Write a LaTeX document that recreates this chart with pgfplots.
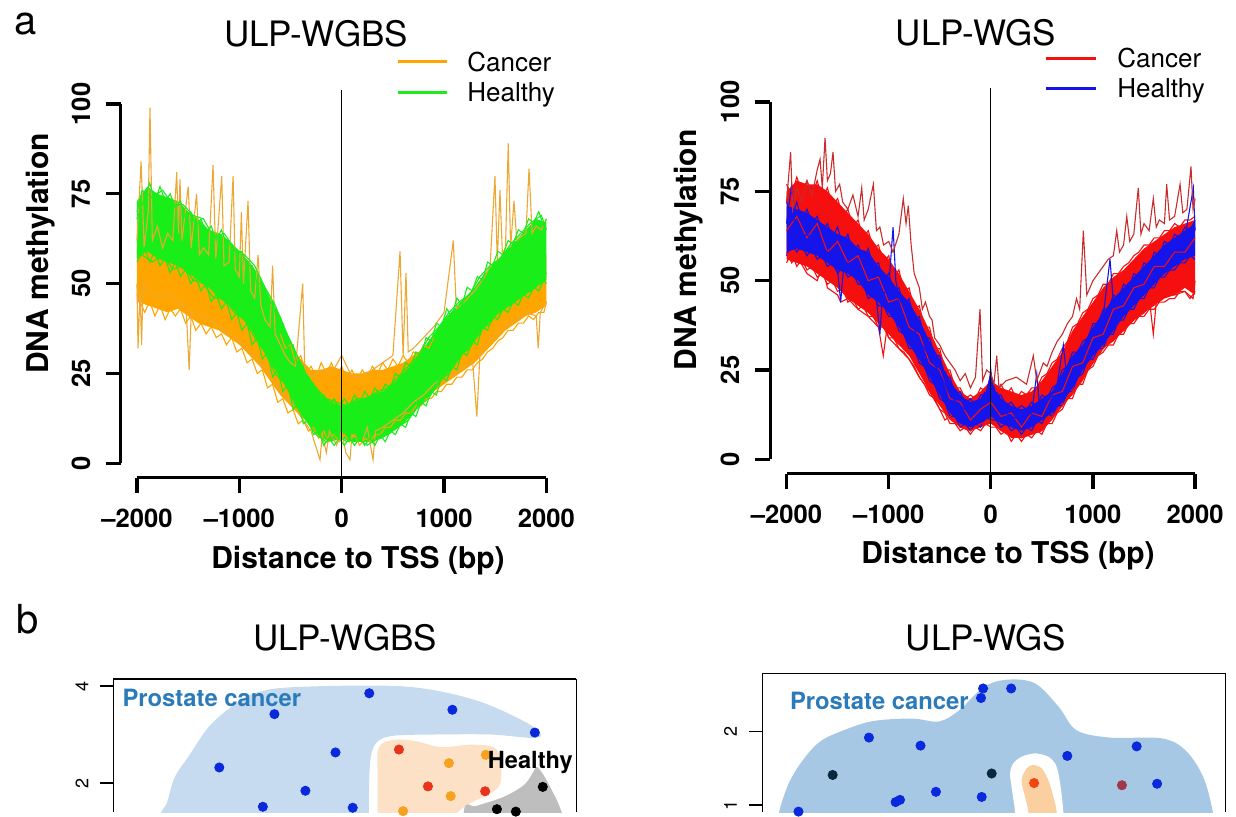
\documentclass[border=0pt]{standalone}
\usepackage{fontspec}
\setmainfont{TeX Gyre Heros}
\usepackage{pgfplots}
\usepackage{pgfplotstable}
\pgfplotsset{compat=1.18}
\usepgfplotslibrary{fillbetween}

\definecolor{cOrange}{RGB}{255,165,0}
\definecolor{cOrangeL}{RGB}{236,168,50}
\definecolor{cGreen}{RGB}{25,238,25}
\definecolor{cRed}{RGB}{245,15,15}
\definecolor{cRedD}{RGB}{200,45,45}
\definecolor{cBlue}{RGB}{20,20,235}
\definecolor{bBlueL}{RGB}{198,219,239}
\definecolor{bBlueR}{RGB}{166,200,228}
\definecolor{bPeachL}{RGB}{252,225,198}
\definecolor{bPeachR}{RGB}{250,208,160}
\definecolor{bGrey}{RGB}{190,190,190}
\definecolor{txtBlue}{RGB}{43,123,186}
\definecolor{dBlue}{RGB}{10,40,220}
\definecolor{dRed}{RGB}{232,52,28}
\definecolor{dOrange}{RGB}{245,162,30}
\definecolor{dNavy}{RGB}{10,40,60}
\definecolor{dOrRed}{RGB}{240,70,20}
\definecolor{dMaroon}{RGB}{160,56,74}

% band envelopes (x, lower, upper)
\pgfplotstableread{
x lo hi
-2000 45 62
-1900 44 64
-1800 43 60
-1700 42 59
-1600 43 58
-1500 41 57
-1400 39 55
-1300 38 53
-1200 37 51
-1100 35 49
-1000 33 47
-900 30 44
-800 27 41
-700 23 38
-600 19 35
-500 16 31
-400 13 29
-300 11 26
-200 9 26
-100 8 27
0 8 26
100 8 25
200 7 25
300 8 26
400 10 26
500 12 27
600 14 28
700 16 30
800 18 32
900 20 34
1000 22 37
1100 24 40
1200 26 42
1300 28 45
1400 31 48
1500 34 50
1600 37 53
1700 39 55
1800 41 57
1900 42 58
2000 44 58
}\tabOL

\pgfplotstableread{
x lo hi
-2000 57 73
-1900 59 77
-1800 57 75
-1700 56 74
-1600 55 73
-1500 53 70
-1400 51 68
-1300 49 65
-1200 46 64
-1100 44 62
-1000 41 59
-900 38 56
-800 33 52
-700 28 46
-600 24 41
-500 19 34
-400 14 28
-300 10 23
-200 7 19
-100 6 17
0 7 16
100 6 17
200 6 18
300 6 19
400 7 20
500 9 22
600 11 25
700 14 28
800 17 32
900 20 36
1000 24 40
1100 27 43
1200 31 46
1300 34 49
1400 38 53
1500 41 56
1600 43 59
1700 45 62
1800 47 65
1900 49 68
2000 51 67
}\tabGL

\pgfplotstableread{
x lo hi
-2000 56 75
-1900 55 78
-1800 54 77
-1700 52 77
-1600 50 75
-1500 48 72
-1400 45 69
-1300 43 66
-1200 41 63
-1100 38 59
-1000 35 56
-900 32 52
-800 29 47
-700 24 42
-600 19 36
-500 15 30
-400 11 24
-300 9 19
-200 8 17
-100 9 19
0 10 22
100 8 20
200 6 19
300 6 18
400 7 19
500 8 22
600 11 26
700 15 30
800 18 36
900 22 40
1000 27 44
1100 31 48
1200 33 51
1300 36 53
1400 39 56
1500 41 59
1600 43 61
1700 45 63
1800 46 65
1900 48 66
2000 46 67
}\tabRR

\pgfplotstableread{
x lo hi
-2000 58 71
-1900 59 70
-1800 58 69
-1700 57 67
-1600 55 65
-1500 53 63
-1400 52 62
-1300 50 59
-1200 46 58
-1100 44 54
-1000 41 51
-900 37 47
-800 32 44
-700 28 39
-600 23 33
-500 18 28
-400 13 22
-300 10 18
-200 9 16
-100 10 17
0 12 22
100 10 17
200 9 15
300 8 14
400 9 15
500 11 17
600 13 19
700 16 24
800 20 29
900 25 32
1000 29 37
1100 32 41
1200 36 45
1300 40 48
1400 43 51
1500 46 54
1600 49 57
1700 52 60
1800 54 62
1900 56 64
2000 57 66
}\tabBR

\pgfplotsset{
  toppanel/.style={
    anchor=south west, scale only axis,
    xmin=-2160, xmax=2160, ymin=-4, ymax=104,
    clip=false,
    axis line style={draw=none},
    xtick pos=left, ytick=\empty,
    xtick={-2000,-1000,0,1000,2000},
    xticklabels={--2000,--1000,0,1000,2000},
    tick align=outside, major tick length=7.5pt,
    tick style={black, line width=1.6pt},
    xticklabel style={font=\bfseries\fontsize{12.8}{14}\selectfont,
      inner sep=0pt, anchor=north},
    xticklabel shift=8pt,
  },
  botpanel/.style={
    anchor=north west, scale only axis,
    axis x line=top, axis y line=box,
    axis line style={-, black, line width=0.6pt},
    xtick=\empty, ytick=\empty,
  },
  overlay/.style={
    anchor=north west, scale only axis,
    axis lines=none, ticks=none, clip=false,
  },
  thinline/.style={line width=0.55pt, forget plot},
}

\begin{document}
\begin{tikzpicture}
\path (0pt,0pt) rectangle (618pt,-406pt);

% ---------------- a, ULP-WGBS ----------------
\begin{axis}[toppanel, at={(60.3pt,-238.85pt)}, width=221.1pt, height=194.05pt]
  \addplot[draw=none, name path=oh] table[x=x, y=hi] {\tabOL};
  \addplot[draw=none, name path=ol] table[x=x, y=lo] {\tabOL};
  \addplot[fill=cOrange, draw=none] fill between[of=oh and ol];
  \addplot[thinline, cOrange] coordinates {
    (-2000,47) (-1925,42) (-1875,45) (-1825,41) (-1775,44) (-1725,40) (-1675,43)
    (-1625,41) (-1575,43) (-1525,39) (-1475,41) (-1425,37) (-1375,39) (-1325,36)
    (-1275,38) (-1225,35) (-1175,36) (-1125,33) (-1075,35) (-1025,31) (-975,32)
    (-925,28) (-875,29) (-825,25) (-775,26) (-725,21) (-675,22) (-625,17) (-575,18)
    (-525,14) (-475,15) (-425,11) (-375,12) (-325,9) (-275,10) (-225,7) (-175,9)
    (-125,6) (-75,8) (-25,6) (25,8) (75,6) (125,8) (175,5) (225,7) (275,6) (325,8)
    (375,8) (425,10) (475,10) (525,12) (575,12) (625,14) (675,14) (725,16) (775,16)
    (825,18) (875,18) (925,20) (975,20) (1025,22) (1075,22) (1125,24) (1175,24)
    (1225,26) (1275,26) (1325,28) (1375,29) (1425,31) (1475,32) (1525,34)
    (1575,35) (1625,37) (1675,37) (1725,39) (1775,39) (1825,41) (1875,40)
    (1925,42) (1975,42) (2000,45)};
  \addplot[thinline, cOrange] coordinates {
    (-600,36) (-550,32) (-500,33) (-450,28) (-400,30) (-350,25) (-300,27) (-250,24)
    (-200,28) (-150,25) (-100,28) (-50,24) (0,27) (50,23) (100,26) (150,23) (200,26)
    (250,24) (300,27) (350,25) (400,28) (450,26) (500,29) (550,27) (600,30)
    (650,28) (700,31) (750,30) (800,33) (850,32) (900,35)};
  % cancer samples with spikes
  \addplot[thinline, cOrangeL] coordinates {
    (-2000,62) (-1960,84) (-1930,60) (-1890,70) (-1873,99) (-1850,62) (-1800,66)
    (-1750,60) (-1700,64) (-1650,62) (-1612,81) (-1595,64) (-1580,79) (-1560,62)
    (-1500,77) (-1470,60) (-1418,75) (-1390,58) (-1350,60) (-1300,58) (-1257,83)
    (-1230,57) (-1172,80) (-1150,55) (-1100,56) (-1061,80) (-1040,54) (-1000,52)
    (-980,70) (-960,50) (-915,73) (-890,48) (-850,46) (-817,58) (-790,44) (-750,40)
    (-700,38) (-675,55) (-650,36) (-600,33) (-550,30) (-500,28) (-450,27) (-381,50)
    (-360,25) (-300,24) (-200,26) (-100,25) (0,30) (100,24) (200,24) (300,26)
    (400,28) (500,30) (570,59) (600,30) (628,53) (650,31) (700,32) (800,35)
    (900,38) (1000,42) (1090,62) (1120,43) (1200,45) (1300,48) (1400,52) (1450,55)
    (1497,80) (1520,56) (1546,76) (1570,58) (1600,60) (1627,89) (1650,60) (1683,73)
    (1710,62) (1750,63) (1800,64) (1830,82) (1860,64) (1900,66) (1950,65) (2000,68)};
  \addplot[thinline, cOrangeL] coordinates {
    (-2000,50) (-1990,32) (-1970,48) (-1955,33) (-1940,50) (-1900,48) (-1800,46)
    (-1700,47) (-1600,45) (-1520,43) (-1490,26) (-1470,42) (-1400,41) (-1300,40)
    (-1200,38) (-1100,36) (-1000,34) (-900,31) (-800,28) (-700,25) (-600,20)
    (-500,17) (-400,13) (-300,9) (-212,1) (-190,8) (-150,3) (-120,9) (-50,5) (0,9)
    (40,3) (81,1) (100,8) (200,6) (250,10) (306,1) (330,9) (400,10) (500,12)
    (600,14) (700,17) (800,19) (900,22) (1000,24) (1100,25) (1200,27) (1280,28)
    (1320,13) (1350,30) (1400,33) (1500,36) (1600,38) (1700,40) (1800,42)
    (1900,41) (1920,32) (1940,42) (2000,45)};
  \addplot[draw=none, name path=gh] table[x=x, y=hi] {\tabGL};
  \addplot[draw=none, name path=gl] table[x=x, y=lo] {\tabGL};
  \addplot[fill=cGreen, draw=none] fill between[of=gh and gl];
  \addplot[thinline, cGreen] coordinates {
    (-2000,70) (-1950,76) (-1850,74) (-1750,76) (-1650,72) (-1550,72) (-1450,69)
    (-1350,68) (-1250,63) (-1150,64) (-1050,60) (-950,58) (-850,55) (-750,49)
    (-650,44) (-550,37) (-450,31) (-350,25) (-250,21) (-150,18) (-50,17) (50,16)
    (150,18) (250,18) (350,20) (450,21) (550,24) (650,27) (750,30) (850,35)
    (950,38) (1050,42) (1150,45) (1250,47) (1350,52) (1450,55) (1550,57) (1650,61)
    (1750,64) (1850,67) (1950,69) (2000,65)};
  \addplot[thinline, cGreen] coordinates {
    (-2000,59) (-1950,58) (-1850,56) (-1750,58) (-1650,54) (-1550,55) (-1450,51)
    (-1350,50) (-1250,46) (-1150,46) (-1050,42) (-950,40) (-850,35) (-750,31)
    (-650,25) (-550,22) (-450,16) (-350,12) (-250,8) (-150,6) (-50,8) (50,6)
    (150,7) (250,5) (350,7) (450,8) (550,10) (650,12) (750,16) (850,18) (950,23)
    (1050,25) (1150,30) (1250,32) (1350,37) (1450,39) (1550,43) (1650,44)
    (1750,47) (1850,48) (1950,51) (2000,53)};
  \addplot[thinline, cGreen] coordinates {
    (-2000,68) (-1925,74) (-1875,78) (-1825,73) (-1775,77) (-1725,73) (-1675,75)
    (-1625,71) (-1575,73) (-1525,68) (-1475,70) (-1425,66) (-1375,68) (-1325,64)
    (-1275,66) (-1225,62) (-1175,65) (-1125,61) (-1075,61) (-1025,58) (-975,59)
    (-925,55) (-875,55) (-825,50) (-775,50) (-725,44) (-675,45) (-625,39) (-575,39)
    (-525,32) (-475,33) (-425,26) (-375,27) (-325,21) (-275,22) (-225,18) (-175,19)
    (-125,16) (-75,18) (-25,15) (25,18) (75,16) (125,19) (175,17) (225,20) (275,18)
    (325,21) (375,19) (425,22) (475,21) (525,25) (575,24) (625,28) (675,27) (725,31)
    (775,30) (825,35) (875,34) (925,39) (975,38) (1025,43) (1075,41) (1125,46)
    (1175,44) (1225,49) (1275,48) (1325,52) (1375,51) (1425,56) (1475,55) (1525,59)
    (1575,58) (1625,62) (1675,61) (1725,65) (1775,64) (1825,68) (1875,67) (1925,70)
    (1975,66) (2000,68)};
  \addplot[thinline, cGreen] coordinates {
    (-2000,56) (-1925,60) (-1875,56) (-1825,59) (-1775,55) (-1725,57) (-1675,53)
    (-1625,56) (-1575,52) (-1525,54) (-1475,50) (-1425,52) (-1375,48) (-1325,50)
    (-1275,45) (-1225,47) (-1175,43) (-1125,45) (-1075,40) (-1025,42) (-975,37)
    (-925,39) (-875,33) (-825,35) (-775,29) (-725,31) (-675,24) (-625,26) (-575,20)
    (-525,22) (-475,15) (-425,17) (-375,11) (-325,12) (-275,8) (-225,9) (-175,5)
    (-125,7) (-75,5) (-25,7) (25,5) (75,7) (125,5) (175,7) (225,5) (275,7) (325,5)
    (375,8) (425,6) (475,9) (525,8) (575,11) (625,10) (675,14) (725,13) (775,17)
    (825,16) (875,20) (925,19) (975,24) (1025,23) (1075,27) (1125,26) (1175,31)
    (1225,30) (1275,34) (1325,33) (1375,38) (1425,37) (1475,41) (1525,40) (1575,43)
    (1625,42) (1675,45) (1725,44) (1775,47) (1825,46) (1875,49) (1925,48) (1975,51)
    (2000,50)};
  \addplot[black, line width=0.6pt, forget plot] coordinates {(0,-4) (0,104)};
  \addplot[black, line width=1.6pt, forget plot] coordinates {(-2000,-4) (2000,-4)};
  \addplot[black, line width=1.6pt, forget plot] coordinates {(-2160,0) (-2160,100)};
  \addplot[black, line width=1.6pt, forget plot, unbounded coords=jump] coordinates {
    (-2160,0) (-2306.5,0) (nan,nan) (-2160,25) (-2306.5,25) (nan,nan)
    (-2160,50) (-2306.5,50) (nan,nan) (-2160,75) (-2306.5,75) (nan,nan)
    (-2160,100) (-2306.5,100)};
  % legend keys
  \addplot[cOrange, line width=1.5pt, forget plot] coordinates {(550,111.7) (1029,111.7)};
  \addplot[cGreen, line width=1.5pt, forget plot] coordinates {(550,103.1) (1029,103.1)};
\end{axis}

% ---------------- a, ULP-WGS ----------------
\begin{axis}[toppanel, at={(385.1pt,-236.8pt)}, width=220.6pt, height=192.9pt]
  \addplot[draw=none, name path=rh] table[x=x, y=hi] {\tabRR};
  \addplot[draw=none, name path=rl] table[x=x, y=lo] {\tabRR};
  \addplot[fill=cRed, draw=none] fill between[of=rh and rl];
  \addplot[thinline, cRed] coordinates {
    (-2000,77) (-1950,74) (-1900,79) (-1850,75) (-1800,78) (-1750,74) (-1700,78)
    (-1650,73) (-1600,76) (-1550,71) (-1500,73) (-1450,68) (-1400,70) (-1350,65)
    (-1300,67) (-1250,62) (-1200,64) (-1150,59) (-1100,60) (-1050,55) (-1000,57)
    (-950,51) (-900,53) (-850,47) (-800,48) (-750,42) (-700,43) (-650,37) (-600,37)
    (-550,31) (-500,31) (-450,25) (-400,25) (-350,20) (-300,20) (-250,17) (-200,18)
    (-150,17) (-100,20) (-50,19) (0,23) (50,19) (100,21) (150,18) (200,20) (250,17)
    (300,19) (350,18) (400,20) (450,20) (500,23) (550,24) (600,27) (650,28) (700,31)
    (750,33) (800,37) (850,38) (900,41) (950,42) (1000,45) (1050,46) (1100,49)
    (1150,49) (1200,52) (1250,52) (1300,54) (1350,55) (1400,57) (1450,58) (1500,60)
    (1550,60) (1600,62) (1650,62) (1700,64) (1750,64) (1800,66) (1850,65) (1900,67)
    (1950,67) (2000,68)};
  \addplot[thinline, cRed] coordinates {
    (-2000,55) (-1950,58) (-1900,54) (-1850,56) (-1800,53) (-1750,54) (-1700,51)
    (-1650,52) (-1600,49) (-1550,50) (-1500,47) (-1450,48) (-1400,44) (-1350,45)
    (-1300,42) (-1250,43) (-1200,40) (-1150,40) (-1100,37) (-1050,37) (-1000,34)
    (-950,34) (-900,31) (-850,30) (-800,28) (-750,26) (-700,23) (-650,21) (-600,18)
    (-550,17) (-500,14) (-450,13) (-400,10) (-350,10) (-300,8) (-250,9) (-200,7)
    (-150,9) (-100,8) (-50,10) (0,9) (50,9) (100,7) (150,8) (200,5) (250,7) (300,5)
    (350,7) (400,6) (450,8) (500,7) (550,10) (600,10) (650,13) (700,14) (750,17)
    (800,17) (850,21) (900,21) (950,25) (1000,26) (1050,29) (1100,30) (1150,32)
    (1200,32) (1250,35) (1300,35) (1350,38) (1400,38) (1450,40) (1500,40) (1550,42)
    (1600,42) (1650,44) (1700,44) (1750,45) (1800,45) (1850,47) (1900,47) (1950,45)
    (2000,47)};
  \addplot[draw=none, name path=bh] table[x=x, y=hi] {\tabBR};
  \addplot[draw=none, name path=bl] table[x=x, y=lo] {\tabBR};
  \addplot[fill=cBlue, draw=none] fill between[of=bh and bl];
  \addplot[thinline, cBlue] coordinates {
    (-2000,72) (-1950,68) (-1900,72) (-1850,67) (-1800,70) (-1750,66) (-1700,68)
    (-1650,64) (-1600,66) (-1550,62) (-1500,65) (-1450,60) (-1400,63) (-1350,58)
    (-1300,60) (-1250,56) (-1200,59) (-1150,54) (-1100,55) (-1050,50) (-1000,52)
    (-950,47) (-900,48) (-850,43) (-800,45) (-750,39) (-700,40) (-650,34) (-600,34)
    (-550,29) (-500,29) (-450,23) (-400,23) (-350,18) (-300,19) (-250,15) (-200,17)
    (-150,15) (-100,18) (-50,18) (0,24) (50,18) (100,18) (150,15) (200,16) (250,14)
    (300,15) (350,14) (400,16) (450,15) (500,18) (550,17) (600,20) (650,21) (700,25)
    (750,26) (800,30) (850,30) (900,33) (950,34) (1000,38) (1050,38) (1100,42)
    (1150,42) (1200,46) (1250,45) (1300,49) (1350,48) (1400,52) (1450,51) (1500,55)
    (1550,54) (1600,58) (1650,57) (1700,61) (1750,60) (1800,63) (1850,62) (1900,65)
    (1950,64) (2000,67)};
  \addplot[thinline, cBlue] coordinates {
    (-2000,57) (-1950,61) (-1900,58) (-1850,60) (-1800,57) (-1750,59) (-1700,56)
    (-1650,57) (-1600,54) (-1550,55) (-1500,52) (-1450,54) (-1400,51) (-1350,52)
    (-1300,49) (-1250,49) (-1200,45) (-1150,46) (-1100,43) (-1050,43) (-1000,40)
    (-950,40) (-900,36) (-850,35) (-800,31) (-750,31) (-700,27) (-650,26) (-600,22)
    (-550,21) (-500,17) (-450,16) (-400,12) (-350,12) (-300,9) (-250,10) (-200,8)
    (-150,10) (-100,9) (-50,12) (0,11) (50,11) (100,9) (150,10) (200,8) (250,9)
    (300,7) (350,9) (400,8) (450,11) (500,10) (550,13) (600,12) (650,15) (700,15)
    (750,19) (800,19) (850,23) (900,24) (950,28) (1000,28) (1050,31) (1100,31)
    (1150,35) (1200,35) (1250,39) (1300,39) (1350,42) (1400,42) (1450,45) (1500,45)
    (1550,48) (1600,48) (1650,51) (1700,51) (1750,53) (1800,53) (1850,55) (1900,55)
    (1950,57) (2000,56)};
  \addplot[thinline, cRed] coordinates {
    (-2000,64) (-1900,68) (-1800,62) (-1700,66) (-1600,58) (-1500,61) (-1400,55)
    (-1300,57) (-1200,50) (-1100,51) (-1000,44) (-900,45) (-800,37) (-700,35)
    (-600,27) (-500,25) (-400,17) (-300,16) (-200,11) (-100,14) (0,16) (100,12)
    (200,13) (300,9) (400,13) (500,12) (600,18) (700,19) (800,26) (900,27)
    (1000,34) (1100,35) (1200,42) (1300,43) (1400,48) (1500,49) (1600,54)
    (1700,54) (1800,58) (1900,58) (2000,62)};
  \addplot[thinline, cRed] coordinates {
    (-2000,58) (-1950,55) (-1900,57) (-1800,52) (-1700,50) (-1650,54) (-1600,48)
    (-1500,46) (-1470,44) (-1400,45) (-1300,42) (-1200,40) (-1100,37) (-1053,29)
    (-1020,36) (-1000,34) (-900,31) (-800,28) (-700,23) (-600,19) (-500,14)
    (-450,11) (-400,12) (-300,9) (-200,8) (-100,10) (0,11) (100,8) (200,7) (300,6)
    (400,7) (500,8) (600,12) (700,15) (800,19) (900,23) (1000,27) (1100,31)
    (1200,34) (1300,36) (1400,39) (1500,41) (1560,43) (1591,35) (1620,44)
    (1700,46) (1800,46) (1900,47) (1980,45) (2000,50)};
  \addplot[thinline, cBlue] coordinates {
    (-2000,66) (-1950,77) (-1920,64) (-1850,62) (-1800,63) (-1700,60) (-1600,58)
    (-1500,53) (-1470,44) (-1440,54) (-1400,55) (-1300,52) (-1200,48) (-1120,45)
    (-1086,35) (-1060,46) (-1000,48) (-957,65) (-930,50) (-900,45) (-800,40)
    (-700,33) (-600,29) (-500,24) (-400,18) (-300,15) (-200,13) (-100,15) (-30,18)
    (0,25) (30,16) (100,14) (200,12) (300,11) (400,13) (450,24) (480,14) (550,16)
    (600,18) (650,21) (710,32) (740,24) (800,27) (900,31) (1000,35) (1100,40)
    (1167,56) (1200,44) (1300,47) (1400,50) (1500,53) (1600,56) (1700,58)
    (1800,60) (1900,62) (1983,76) (2000,64)};
  \addplot[thinline, cRedD] coordinates {
    (-2000,72) (-1960,86) (-1940,70) (-1900,76) (-1850,72) (-1800,78) (-1750,74)
    (-1700,81) (-1672,84) (-1650,76) (-1623,90) (-1600,78) (-1570,80) (-1545,86)
    (-1520,75) (-1480,77) (-1450,72) (-1400,70) (-1350,74) (-1300,68) (-1264,76)
    (-1240,67) (-1200,70) (-1150,77) (-1120,64) (-1086,65) (-1050,60) (-1000,61)
    (-957,58) (-900,63) (-857,73) (-830,66) (-808,71) (-780,60) (-750,52) (-700,48)
    (-670,42) (-640,44) (-600,40) (-575,39) (-550,34) (-500,32) (-450,29) (-400,27)
    (-350,25) (-300,22) (-250,24) (-200,20) (-150,23) (-106,42) (-80,22) (-40,25)
    (0,24) (30,21) (58,29) (80,20) (150,22) (250,23) (350,21) (416,29) (450,22)
    (514,27) (550,26) (600,30) (650,33) (700,35) (750,38) (800,40) (839,45)
    (870,42) (906,64) (940,46) (1000,50) (1050,52) (1100,54) (1150,56) (1200,57)
    (1233,64) (1260,58) (1300,60) (1331,68) (1360,61) (1400,63) (1444,76)
    (1470,63) (1500,66) (1550,64) (1591,73) (1620,65) (1650,67) (1700,66)
    (1722,77) (1750,67) (1800,68) (1853,77) (1880,69) (1920,70) (1960,82)
    (1980,70) (2000,73)};
  \addplot[black, line width=0.6pt, forget plot] coordinates {(0,-4) (0,104)};
  \addplot[black, line width=1.6pt, forget plot] coordinates {(-2000,-4) (2000,-4)};
  \addplot[black, line width=1.6pt, forget plot] coordinates {(-2160,0) (-2160,100)};
  \addplot[black, line width=1.6pt, forget plot, unbounded coords=jump] coordinates {
    (-2160,0) (-2306.9,0) (nan,nan) (-2160,25) (-2306.9,25) (nan,nan)
    (-2160,50) (-2306.9,50) (nan,nan) (-2160,75) (-2306.9,75) (nan,nan)
    (-2160,100) (-2306.9,100)};
  \addplot[cRed, line width=1.5pt, forget plot] coordinates {(540,112.2) (1030,112.2)};
  \addplot[cBlue, line width=1.5pt, forget plot] coordinates {(540,103.8) (1030,103.8)};
\end{axis}

% ---------------- b, ULP-WGBS ----------------
\begin{axis}[botpanel, at={(56.7pt,-339.5pt)}, width=231.4pt, height=66.5pt,
    xmin=114, xmax=581.6, ymin=1.402, ymax=4.144]
  \addplot[fill=bBlueL, draw=none, smooth, tension=0.55] coordinates {
    (150,-0.5) (160,1.2) (168,1.59) (176,2.12) (190,2.55) (210,3.15) (232,3.55)
    (258,3.86) (300,3.98) (408,3.99) (478,3.72) (530,3.26) (546,3.0) (536,2.93)
    (495,3.0) (440,3.0) (400,2.98) (384,2.9) (376,2.7) (373,2.3) (372,1.4)
    (372,-0.5)} -- cycle;
  \addplot[fill=bPeachL, draw=none, smooth, tension=0.55] coordinates {
    (381,-0.5) (381,2.0) (382,2.72) (398,2.89) (420,2.86) (445,2.74) (475,2.79)
    (498,2.74) (505,2.5) (505,2.0) (495,1.78) (478,1.62) (462,1.40) (452,1.0)
    (448,-0.5)} -- cycle;
  \addplot[fill=bGrey, draw=none, smooth, tension=0.55] coordinates {
    (470,-0.5) (468,1.40) (480,1.52) (500,1.65) (515,1.78) (530,1.98) (538,2.22)
    (542,2.33) (549,2.15) (557,1.85) (566,1.45) (575,0.8) (575,-0.5)} -- cycle;
  \addplot[only marks, mark=*, mark size=2.3pt, dBlue] coordinates {
    (276.7,3.42) (372.5,3.85) (456.5,3.51) (539.8,3.04) (338.4,2.63) (221,2.32)
    (308,1.84) (265,1.51) (355.8,1.49)};
  \addplot[only marks, mark=*, mark size=2.3pt, dRed] coordinates {
    (402.5,2.69) (431.8,1.93) (489.6,1.83)};
  \addplot[only marks, mark=*, mark size=2.3pt, dOrange] coordinates {
    (453,2.41) (490.3,2.58) (454.8,1.73) (406.7,1.42)};
  \addplot[only marks, mark=*, mark size=2.3pt, black] coordinates {
    (547.8,1.92) (501.5,1.46) (520.6,1.41)};
\end{axis}
\begin{axis}[overlay, at={(56.7pt,-339.5pt)}, width=231.4pt, height=66.5pt,
    xmin=114, xmax=581.6, ymin=1.402, ymax=4.144]
  \addplot[black, line width=0.6pt, unbounded coords=jump] coordinates {
    (114,2) (100.9,2) (nan,nan) (114,4) (100.9,4)};
\end{axis}

% ---------------- b, ULP-WGS ----------------
\begin{axis}[botpanel, at={(381.25pt,-336.65pt)}, width=231.5pt, height=69.35pt,
    xmin=763.3, xmax=1231.8, ymin=0.9045, ymax=2.797]
  \addplot[fill=bBlueR, draw=none, smooth, tension=0.55] coordinates {
    (770,-0.5) (776,0.5) (780,0.90) (790,1.30) (804,1.61) (820,1.85) (838,1.98)
    (873,2.14) (914,2.18) (942,2.14) (963,2.30) (987,2.61) (1011,2.71) (1039,2.66)
    (1063,2.34) (1081,2.02) (1115,1.92) (1167,1.91) (1191,1.75) (1209,1.39)
    (1219,0.90) (1224,0.3) (1225,-0.5)} -- cycle;
  \addplot[fill=white, draw=none, smooth, tension=0.5] coordinates {
    (1019,0.6) (1018.8,0.905) (1015.8,1.205) (1013.8,1.432) (1017.1,1.569)
    (1025.6,1.659) (1039.1,1.705) (1052.5,1.659) (1059.3,1.569) (1062.7,1.432)
    (1065.4,1.205) (1067.7,0.905) (1068,0.6)} -- cycle;
  \addplot[fill=bPeachR, draw=none, smooth, tension=0.5] coordinates {
    (1032.3,0.6) (1032.3,0.905) (1028.9,1.113) (1025.5,1.341) (1030.6,1.501)
    (1037,1.546) (1045.8,1.501) (1052.5,1.341) (1057.6,1.113) (1061,0.905)
    (1061,0.6)} -- cycle;
  \addplot[only marks, mark=*, mark size=2.3pt, dBlue] coordinates {
    (986.5,2.59) (1014.9,2.59) (984.4,2.46) (871,1.92) (923.2,1.81) (1071.7,1.67)
    (1141.9,1.80) (1162.6,1.29) (938.8,1.18) (985.1,1.11) (898,1.04) (902.4,1.07)
    (799.7,0.91)};
  \addplot[only marks, mark=*, mark size=2.3pt, dNavy] coordinates {
    (834.3,1.41) (995.2,1.43)};
  \addplot[only marks, mark=*, mark size=2.3pt, dOrRed] coordinates {(1038.1,1.30)};
  \addplot[only marks, mark=*, mark size=2.3pt, dMaroon] coordinates {(1127,1.27)};
\end{axis}
\begin{axis}[overlay, at={(381.25pt,-336.65pt)}, width=231.5pt, height=69.35pt,
    xmin=763.3, xmax=1231.8, ymin=0.9045, ymax=2.797]
  \addplot[black, line width=0.6pt, unbounded coords=jump] coordinates {
    (763.3,1) (750.1,1) (nan,nan) (763.3,2) (750.1,2)};
\end{axis}

% ---------------- texts, placed in image pixels ----------------
\begin{scope}[x=0.5pt, y=-0.5pt]
  \node[anchor=base west, inner sep=0pt, font=\fontsize{20}{24}\selectfont] at (14,35) {a};
  \node[anchor=base west, inner sep=0pt, font=\fontsize{20}{24}\selectfont] at (16,633) {b};
  \node[inner sep=0pt, font=\fontsize{17.5}{20}\selectfont] at (316,33.5) {ULP-WGBS};
  \node[inner sep=0pt, font=\fontsize{17.5}{20}\selectfont] at (976,33) {ULP-WGS};
  \node[inner sep=0pt, font=\fontsize{17.5}{20}\selectfont] at (345,638) {ULP-WGBS};
  \node[inner sep=0pt, font=\fontsize{17.5}{20}\selectfont] at (986,638) {ULP-WGS};
  \node[anchor=base west, inner sep=0pt, font=\fontsize{13}{15}\selectfont] at (467,71.5) {Cancer};
  \node[anchor=base west, inner sep=0pt, font=\fontsize{13}{15}\selectfont] at (467,102) {Healthy};
  \node[anchor=base west, inner sep=0pt, font=\fontsize{13}{15}\selectfont] at (1117,67.5) {Cancer};
  \node[anchor=base west, inner sep=0pt, font=\fontsize{13}{15}\selectfont] at (1117,97.5) {Healthy};
  \node[rotate=90, inner sep=0pt, font=\bfseries\fontsize{15}{18}\selectfont] at (41,253.5) {DNA methylation};
  \node[rotate=90, inner sep=0pt, font=\bfseries\fontsize{15}{18}\selectfont] at (689,250) {DNA methylation};
  \node[anchor=base, inner sep=0pt, font=\bfseries\fontsize{15}{18}\selectfont] at (358,568) {Distance to TSS (bp)};
  \node[anchor=base, inner sep=0pt, font=\bfseries\fontsize{15}{18}\selectfont] at (1008,563) {Distance to TSS (bp)};
  % y tick labels, written along the axis as in the source
  \begin{scope}[every node/.style={rotate=90, inner sep=0pt,
      font=\bfseries\fontsize{12.8}{14}\selectfont}]
    \node at (81,463.3) {0};  \node at (81,373.5) {25};  \node at (81,283.7) {50};
    \node at (81,193.8) {75}; \node at (81,104) {100};
    \node at (730,459.3) {0};  \node at (730,369.9) {25};  \node at (730,280.5) {50};
    \node at (730,191.1) {75}; \node at (730,101.7) {100};
  \end{scope}
  \begin{scope}[every node/.style={rotate=90, inner sep=0pt,
      font=\fontsize{9}{10}\selectfont}]
    \node at (82,686) {4}; \node at (82,783) {2};
    \node at (730.5,731.7) {2}; \node at (730.5,805) {1};
  \end{scope}
  \node[anchor=base west, inner sep=0pt, text=txtBlue, font=\bfseries\fontsize{11.9}{14}\selectfont] at (122.1,706.7) {Prostate cancer};
  \node[anchor=base west, inner sep=0pt, font=\bfseries\fontsize{11.8}{14}\selectfont] at (487.5,768.3) {Healthy};
  \node[anchor=base west, inner sep=0pt, text=txtBlue, font=\bfseries\fontsize{11.9}{14}\selectfont] at (789.6,709.3) {Prostate cancer};
\end{scope}
\end{tikzpicture}
\end{document}
